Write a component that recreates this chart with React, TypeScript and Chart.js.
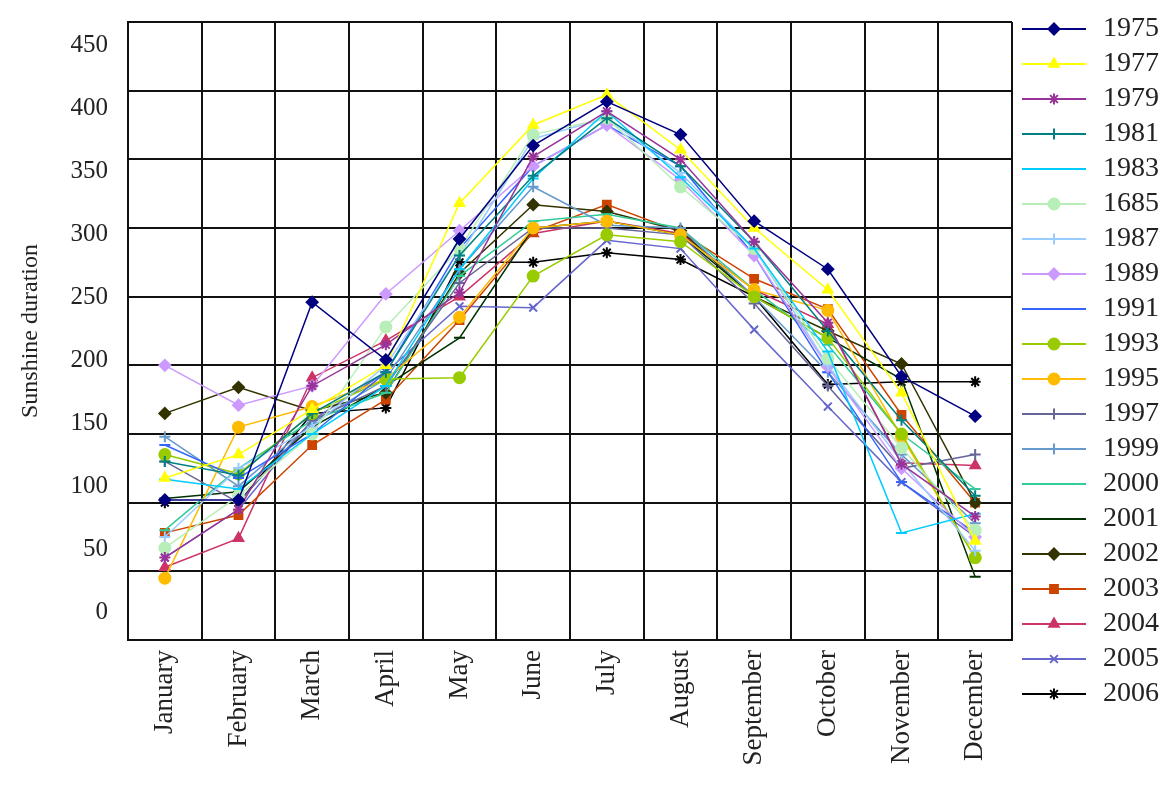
import React, { useEffect, useRef } from "react";
import { Chart, registerables } from "chart.js";
import { drawPoint } from "chart.js/helpers";

Chart.register(...registerables);

const months = ["January", "February", "March", "April", "May", "June", "July", "August", "September", "October", "November", "December"];
const yTickValues = [0, 50, 100, 150, 200, 250, 300, 350, 400, 450];

const years = ["1975", "1977", "1979", "1981", "1983", "1685", "1987", "1989", "1991", "1993", "1995", "1997", "1999", "2000", "2001", "2002", "2003", "2004", "2005", "2006"];

const s1975 = [102, 102, 246, 204, 292, 360, 392, 368, 305, 270, 192, 163];
const s1977 = [118, 135, 168, 200, 318, 375, 397, 357, 300, 255, 180, 72];
const s1979 = [60, 95, 185, 215, 253, 352, 385, 350, 290, 231, 128, 90];
const s1981 = [130, 120, 165, 195, 280, 338, 380, 345, 290, 225, 160, 105];
const s1983 = [117, 110, 150, 185, 270, 336, 385, 337, 285, 210, 78, 92];
const s1685 = [67, 105, 150, 228, 285, 368, 380, 330, 285, 205, 140, 80];
const s1987 = [75, 125, 155, 200, 280, 365, 380, 340, 285, 200, 130, 65];
const s1989 = [200, 171, 185, 252, 298, 345, 375, 335, 280, 199, 125, 75];
const s1991 = [142, 118, 150, 195, 285, 345, 375, 345, 280, 195, 115, 78];
const s1993 = [135, 121, 165, 190, 191, 265, 295, 290, 250, 220, 150, 60];
const s1995 = [45, 155, 170, 190, 235, 300, 305, 295, 255, 240, 148, 60];
const s1997 = [130, 100, 160, 185, 260, 300, 300, 295, 245, 185, 125, 135];
const s1999 = [148, 112, 158, 190, 270, 330, 302, 300, 250, 195, 135, 85];
const s2000 = [80, 125, 160, 180, 265, 305, 310, 300, 255, 215, 150, 110];
const s2001 = [103, 108, 155, 185, 220, 300, 305, 295, 250, 220, 190, 46];
const s2002 = [165, 184, 167, 180, 267, 317, 312, 298, 250, 225, 201, 100];
const s2003 = [78, 91, 142, 175, 233, 297, 317, 297, 263, 241, 164, 100];
const s2004 = [53, 74, 191, 218, 250, 296, 305, 296, 255, 230, 129, 127];
const s2005 = [60, 95, 160, 195, 243, 242, 291, 285, 226, 170, 115, 75];
const s2006 = [100, 100, 165, 169, 275, 275, 282, 277, 250, 186, 188, 188];

const seriesValues = [s1975, s1977, s1979, s1981, s1983, s1685, s1987, s1989, s1991, s1993, s1995, s1997, s1999, s2000, s2001, s2002, s2003, s2004, s2005, s2006];

const seriesColors = ["#000080", "#FFFF00", "#993399", "#008080", "#00CCFF", "#B8EEB8", "#99CCFF", "#CC99FF", "#3366FF", "#99CC00", "#FFBB00", "#666699", "#6699CC", "#33CC99", "#003300", "#333300", "#CC4400", "#CC3366", "#6666CC", "#000000"];
const seriesMarkers = ["rectRot", "triangle", "star", "cross", "line", "circle", "cross", "rectRot", "line", "circle", "circle", "cross", "cross", "line", "line", "rectRot", "rect", "triangle", "crossRot", "star"];

const FONT = "'Liberation Serif', 'Times New Roman', serif";

function makeLegendImage(color: string, marker: string) {
  const c = document.createElement("canvas");
  c.width = 64;
  c.height = 18;
  const ctx = c.getContext("2d")!;
  ctx.strokeStyle = color;
  ctx.lineWidth = 2;
  ctx.beginPath();
  ctx.moveTo(0, 9);
  ctx.lineTo(64, 9);
  ctx.stroke();
  ctx.fillStyle = color;
  ctx.strokeStyle = color;
  ctx.lineWidth = 2;
  drawPoint(ctx, { pointStyle: marker as any, rotation: 0, radius: 5.5, borderWidth: 2 }, 32, 9);
  return c;
}

export default function App() {
  const ref = useRef<HTMLCanvasElement | null>(null);

  useEffect(() => {
    if (!ref.current) return;
    const legendImgs = years.map((_, i) => makeLegendImage(seriesColors[i], seriesMarkers[i]));
    const datasets = years.map((y, i) => ({
      label: y,
      data: seriesValues[i],
      borderColor: seriesColors[i],
      backgroundColor: seriesColors[i],
      pointBackgroundColor: seriesColors[i],
      pointBorderColor: seriesColors[i],
      pointStyle: seriesMarkers[i] as any,
      pointRadius: 5.5,
      pointBorderWidth: 2,
      borderWidth: 1.5,
      fill: false,
      tension: 0,
    }));

    const chart = new Chart(ref.current, {
      type: "line",
      data: { labels: months, datasets },
      options: {
        animation: false,
        responsive: false,
        devicePixelRatio: 1,
        layout: { padding: { top: 8, right: -3, bottom: 0, left: 0 } },
        plugins: {
          title: {
            display: true,
            text: "",
            font: { size: 4, lineHeight: 1 },
            padding: { top: 5, bottom: 5 },
          },
          tooltip: { enabled: false },
          legend: {
            position: "right",
            align: "start",
            labels: {
              usePointStyle: true,
              pointStyleWidth: 70,
              padding: 7,
              color: "#222",
              font: { family: FONT, size: 28 },
              generateLabels: (ch: any) =>
                ch.data.datasets.map((ds: any, i: number) => ({
                  text: ds.label,
                  pointStyle: legendImgs[i],
                  fillStyle: seriesColors[i],
                  strokeStyle: seriesColors[i],
                  lineWidth: 0,
                  hidden: false,
                  datasetIndex: i,
                  fontColor: "#222",
                })),
            },
          },
        },
        scales: {
          x: {
            type: "category",
            offset: true,
            grid: { offset: true, color: "#111", lineWidth: 2, drawTicks: false },
            border: { color: "#111", width: 2 },
            ticks: {
              autoSkip: false,
              maxRotation: 90,
              minRotation: 90,
              padding: 10,
              color: "#222",
              font: { family: FONT, size: 27 },
            },
            afterFit: (s: any) => {
              s.height = 145;
              s.paddingLeft = 0;
              s.paddingRight = 0;
            },
          },
          y: {
            type: "linear",
            position: "left",
            min: 0,
            max: 450,
            grid: { color: "#111", lineWidth: 2, drawTicks: false },
            border: { color: "#111", width: 2 },
            ticks: { display: false, stepSize: 50 },
            afterFit: (s: any) => {
              s.width = 0;
              s.paddingTop = 0;
              s.paddingBottom = 0;
            },
          },
          yl: {
            type: "linear",
            position: "left",
            min: -22.3,
            max: 469,
            grid: { display: false, drawTicks: false },
            border: { display: false },
            ticks: {
              padding: 20,
              color: "#222",
              font: { family: FONT, size: 25 },
            },
            afterBuildTicks: (s: any) => {
              s.ticks = yTickValues.map((v) => ({ value: v }));
            },
            title: {
              display: true,
              text: "Sunshine duration",
              color: "#222",
              font: { family: FONT, size: 24, lineHeight: 1.2 },
              padding: { top: 16, bottom: 0 },
            },
            afterFit: (s: any) => {
              s.width = 128;
              s.paddingTop = 0;
              s.paddingBottom = 0;
            },
          },
        },
      } as any,
    });
    return () => chart.destroy();
  }, []);

  return (
    <div style={{ position: "absolute", left: 0, top: 0, width: 1166, height: 785, background: "#fff" }}>
      <canvas ref={ref} width={1166} height={785} />
    </div>
  );
}
